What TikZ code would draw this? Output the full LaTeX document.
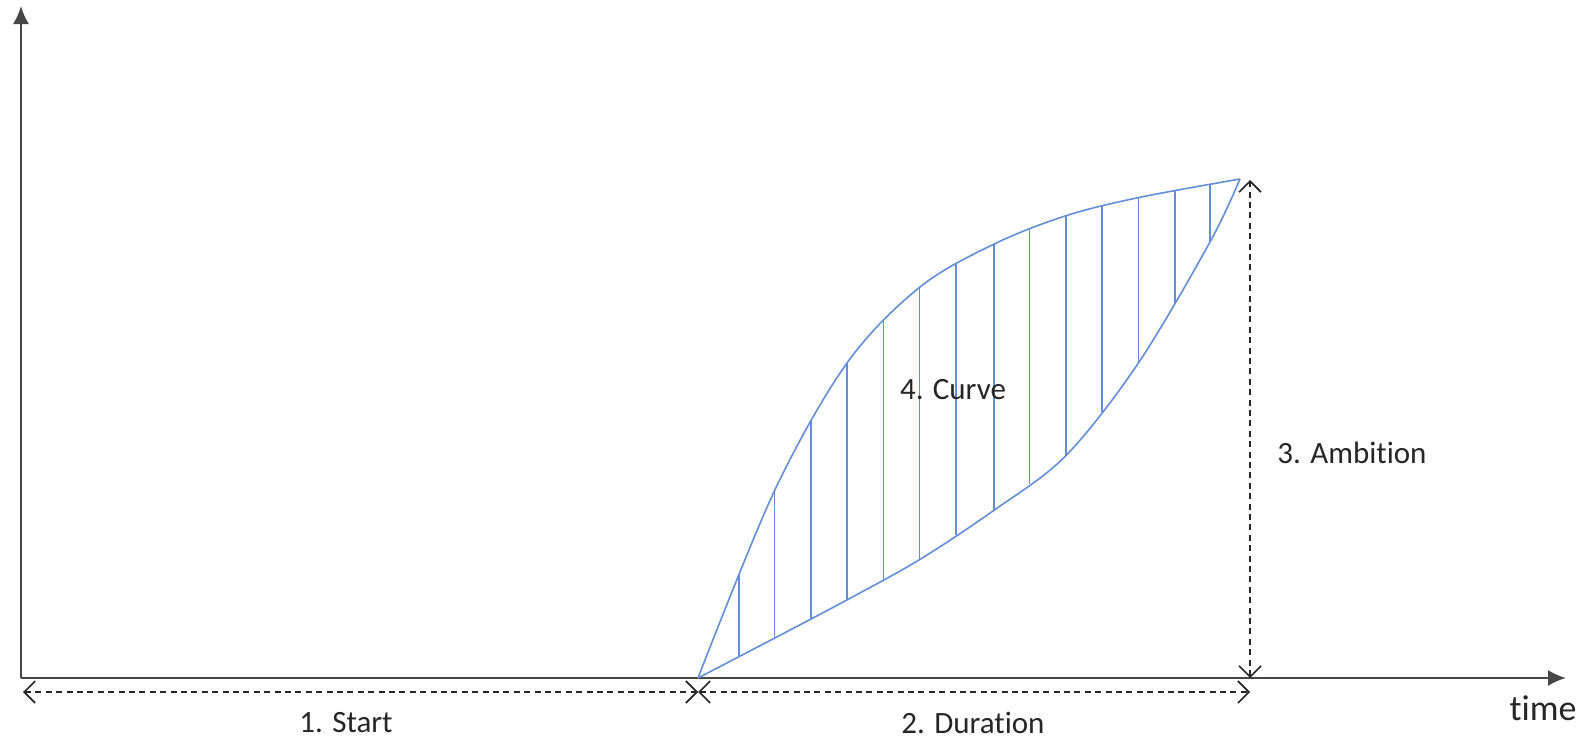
\documentclass[tikz,border=0pt]{standalone}
\usepackage{fontspec}
\setmainfont{Carlito}[Ligatures=NoCommon]
\usetikzlibrary{arrows.meta}
\definecolor{cblue}{RGB}{98,142,218}
\definecolor{axisgray}{RGB}{70,70,70}
\tikzset{
  axisline/.style={draw=axisgray, line width=1.1pt, -{Latex[length=9pt,width=8pt]}},
  dimline/.style={draw=black!85, line width=0.6pt, dash pattern=on 3pt off 2.2pt,
    {Straight Barb[length=5.5pt,width=11pt,line width=0.8pt]}-{Straight Barb[length=5.5pt,width=11pt,line width=0.8pt]}},
  curveline/.style={draw=cblue, line width=0.8pt},
  hatch/.style={draw=cblue, line width=0.8pt},
  lbl/.style={font=\fontsize{15.5}{18}\selectfont, text=black!85, inner sep=0pt}
}
\begin{document}
\begin{tikzpicture}[x=0.5pt,y=-0.5pt]
\useasboundingbox (0,0) rectangle (1581,739);
% axes
\coordinate (O) at (21,678);
\coordinate (Ytop) at (21,6);
\coordinate (Xend) at (1566,678);
\draw[axisline] (O) -- (Ytop);
\draw[axisline] (O) -- (Xend);
% curve endpoints
\coordinate (S) at (698,678);
\coordinate (E) at (1240,179);
% upper curve
\draw[curveline] plot[smooth, tension=0.55] coordinates {
 (S) (774.4,491.0) (847.0,363.0) (919.6,287.3) (994.2,244.0) (1065.8,215.8)
 (1138.4,197.6) (E)};
% lower curve
\draw[curveline] plot[smooth, tension=0.55] coordinates {
 (S) (774.4,638.2) (847.0,599.9) (919.6,559.6) (994.2,510.1) (1065.8,455.7)
 (1138.4,363.0) (1210.0,242.0) (E)};
% hatching
\foreach \x/\a/\b in {739.1/574.7/657.3, 774.4/491.0/638.2, 810.7/421.4/619.0,
  847.0/363.0/599.9, 883.3/320.6/580.7, 919.6/287.3/559.6, 955.9/264.2/535.4,
  994.2/244.0/510.1, 1029.5/228.4/484.0, 1065.8/215.8/455.7, 1102.1/206.2/412.4,
  1138.4/197.6/363.0, 1174.7/190.5/303.5, 1210.0/184.5/242.0}
  \draw[hatch] (\x,\a) -- (\x,\b);
% dimension arrows
\coordinate (D0) at (23,692);
\coordinate (D1) at (698,692);
\coordinate (D2) at (1250,692);
\coordinate (Vb) at (1250,678);
\coordinate (Vt) at (1250,180);
\draw[dimline] (D0) -- (D1);
\draw[dimline] (D1) -- (D2);
\draw[dimline] (Vb) -- (Vt);
% labels
\node[lbl] (start) at (346,723) {1. Start};
\node[lbl] (dur) at (973,723) {2. Duration};
\node[lbl] (amb) at (1352,453) {3. Ambition};
\node[lbl] (curve) at (953,390) {4. Curve};
\node[lbl, font=\fontsize{18}{21}\selectfont] (time) at (1543,708) {time};
\end{tikzpicture}
\end{document}
